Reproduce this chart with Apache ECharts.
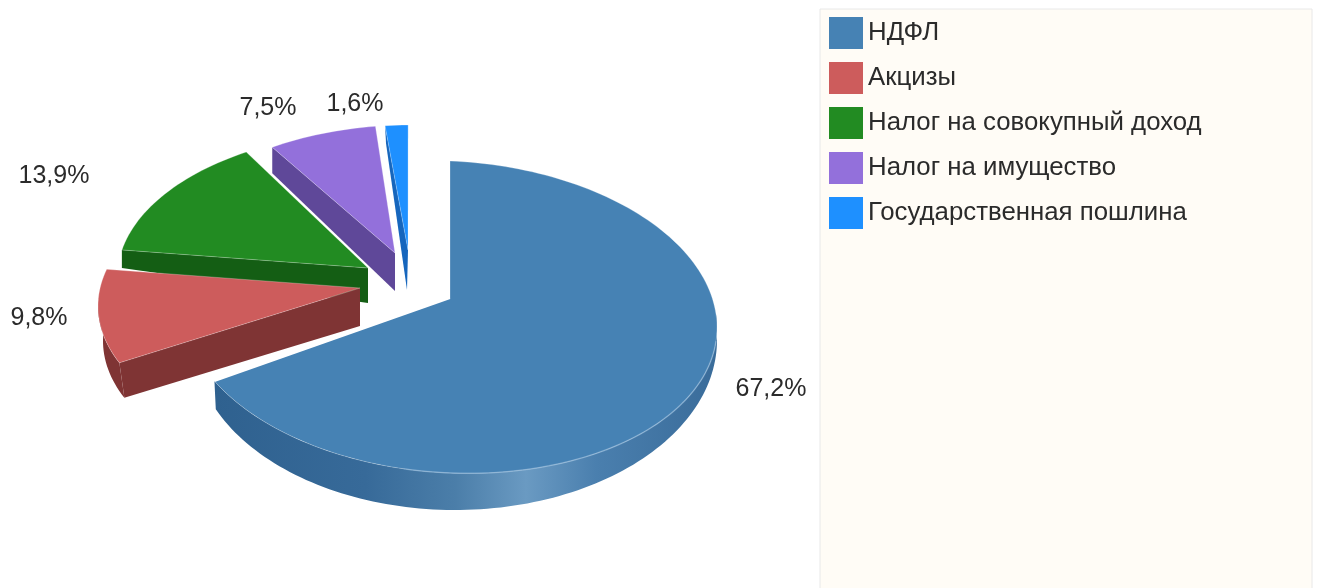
<!DOCTYPE html>
<html><head><meta charset="utf-8">
<style>html,body{margin:0;padding:0;background:#fff}#c{width:1317px;height:588px}</style>
<script src="https://cdn.jsdelivr.net/npm/echarts@6/dist/echarts.min.js"></script>
</head><body><div id="c"></div>
<script>
const categories = ['НДФЛ','Акцизы','Налог на совокупный доход','Налог на имущество','Государственная пошлина'];
const values = [67.2, 9.8, 13.9, 7.5, 1.6];
const colors = ['#4682b4','#cd5c5c','#228b22','#9370db','#1e90ff'];
const wallColors = [null,'#7f3434','#145e14','#5f4899','#1666bd'];

// projection of each exploded slice (tilted, perspective-looking ellipse)
const geometry = [
  {cx:450,cy:317,rx:267,ry:156,shear:.04,shift:0,scale:1,apex:[450,298],outerV:[0,0],apexV:[0,0],z:5},
  {cx:365,cy:306,rx:267,ry:145,shear:0,shift:5,scale:1.07,apex:[360,288],outerV:[5,35],apexV:[0,38],arcWallTo:272,z:4},
  {cx:384,cy:278,rx:267,ry:147,shear:0,shift:3.8,scale:.958,apex:[368,268],outerV:[0,18],apexV:[0,35],z:3},
  {cx:410,cy:280,rx:267,ry:155,shear:0,shift:1.7,scale:.875,apex:[395,253],outerV:[0,26],apexV:[0,38],z:2},
  {cx:410,cy:280,rx:267,ry:155,shear:0,shift:.4,scale:.86,apex:[408,250],outerV:[1,18],apexV:[-1,40],z:1}
];
const labelPos = [[771,389],[39,318],[54,176],[268,108],[355,104]];
const blueBase = {cx:455,cy:340,rx:262,ry:170,shear:0};

const total = values.reduce((a,b)=>a+b,0);
function ptOn(g,t){
  const r=t*Math.PI/180, s=Math.sin(r), c=Math.cos(r);
  return [g.cx+g.rx*s, g.cy-g.ry*c+g.shear*g.rx*s];
}
function arc(g,a,b){
  const out=[], n=Math.max(2,Math.ceil(Math.abs(b-a)/1.5));
  for(let k=0;k<=n;k++) out.push(ptOn(g,a+(b-a)*k/n));
  return out;
}
function renderSlice(i){
  return function(params,api){
    const v=api.value(0), g=geometry[i];
    const before=values.slice(0,i).reduce((a,b)=>a+b,0);
    const d0=before/total*360, span=v/total*360;
    const t0=d0+g.shift, t1=t0+span*g.scale;
    const top=arc(g,t0,t1);
    const P=top[0], A=g.apex;
    const children=[];
    if(i===0){
      const front=arc(g,85,t1), back=arc(blueBase,85,t1+4).reverse();
      children.push({type:'polygon',shape:{points:front.concat(back)},style:{fill:{type:'linear',x:0,y:0,x2:1,y2:0,colorStops:[
        {offset:0,color:'#2f618f'},{offset:.3,color:'#376a99'},{offset:.48,color:'#4b7ea9'},{offset:.62,color:'#6a9ac2'},{offset:.76,color:'#4a7fae'},{offset:1,color:'#3a6c9a'}]}}});
    } else {
      if(g.arcWallTo){
        const a=arc(g,t0,g.arcWallTo);
        const b=a.map(p=>[p[0]+g.outerV[0],p[1]+g.outerV[1]]).reverse();
        children.push({type:'polygon',shape:{points:a.concat(b)},style:{fill:wallColors[i]}});
      }
      children.push({type:'polygon',shape:{points:[P,A,[A[0]+g.apexV[0],A[1]+g.apexV[1]],[P[0]+g.outerV[0],P[1]+g.outerV[1]]]},style:{fill:wallColors[i]}});
    }
    children.push({type:'polygon',shape:{points:[A].concat(top)},style:{fill:colors[i],stroke:'rgba(255,255,255,.25)',lineWidth:1}});
    if(i===0){
      children.push({type:'polyline',shape:{points:[A,top[top.length-1]]},style:{stroke:'#fff',lineWidth:2,fill:null}});
      children.push({type:'polyline',shape:{points:arc(g,95,190)},style:{stroke:'rgba(140,180,215,.55)',lineWidth:1.5,fill:null}});
    }
    children.push({type:'text',z2:10,style:{text:v.toFixed(1).replace('.',',')+'%',x:labelPos[i][0],y:labelPos[i][1],align:'center',verticalAlign:'middle',fill:'#2b2b2b',font:'25px "Liberation Sans"'}});
    return {type:'group',children};
  };
}
const chart=echarts.init(document.getElementById('c'),null,{renderer:'canvas'});
chart.setOption({
  animation:false,
  backgroundColor:'#fff',
  graphic:[{type:'rect',z:-1,shape:{x:820,y:9,width:492,height:590},style:{fill:'#fffcf6',stroke:'#e8e8e8',lineWidth:1}}],
  legend:{orient:'vertical',left:829,top:17,padding:0,itemWidth:34,itemHeight:32,itemGap:13,icon:'rect',selectedMode:false,
    data:categories,textStyle:{color:'#2b2b2b',fontFamily:'Liberation Sans',fontSize:25.8}},
  series:categories.map((name,i)=>({
    type:'custom',name,coordinateSystem:'none',z:geometry[i].z+1,silent:true,
    itemStyle:{color:colors[i]},
    data:[[values[i]]],
    renderItem:renderSlice(i)
  }))
});
</script></body></html>
